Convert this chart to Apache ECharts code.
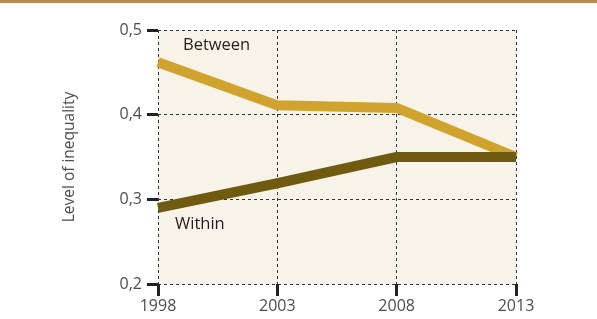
<!DOCTYPE html>
<html>

<head>
    <meta charset=utf-8>
    <title>Level of inequality</title>
    <script src="https://cdn.jsdelivr.net/npm/echarts@6/dist/echarts.min.js"></script>
    <style>
        html, body { margin: 0; padding: 0; background: #fff; }
    </style>
</head>

<body>
<div id="main" style="width: 597px;height:319px;"></div>
</body>
<script type="text/javascript">

    var years = ['1998', '2003', '2008', '2013'];
    var between = [0.462, 0.411, 0.408, 0.35];
    var within = [0.29, 0.319, 0.35, 0.35];

    var myChart = echarts.init(document.getElementById('main'));

    var dashed = { color: '#333', type: [3, 3], width: 1 };
    var labelFont = { color: '#4d4d4d', fontSize: 16, fontFamily: 'Open Sans' };

    var option = {
        animation: false,
        grid: { left: 158, right: 81, top: 30, bottom: 35, backgroundColor: '#f8f3e8', show: true, borderWidth: 0 },
        xAxis: {
            type: 'category',
            data: years,
            boundaryGap: false,
            axisLine: { show: false },
            axisTick: { show: true, alignWithLabel: true, length: 12, lineStyle: { color: '#222', width: 3 } },
            axisLabel: Object.assign({ margin: 14 }, labelFont),
            splitLine: { show: true, lineStyle: dashed }
        },
        yAxis: {
            type: 'value',
            min: 0.2,
            max: 0.5,
            interval: 0.1,
            name: 'Level of inequality',
            nameLocation: 'middle',
            nameGap: 80,
            nameTextStyle: { color: '#4d4d4d', fontSize: 15.5, fontFamily: 'Open Sans' },
            axisLine: { show: false },
            axisTick: { show: true, length: 11, lineStyle: { color: '#222', width: 3 } },
            axisLabel: Object.assign({ margin: 16, formatter: function (v) { return v.toFixed(1).replace('.', ','); } }, labelFont),
            splitLine: { show: true, lineStyle: dashed }
        },
        graphic: [
            { type: 'rect', left: 0, top: 0, shape: { width: 597, height: 3 }, style: { fill: '#b98c55' } },
            { type: 'text', left: 183, top: 37, style: { text: 'Between', fill: '#231f20', font: '16.5px "Open Sans"' } },
            { type: 'text', left: 175, top: 216, style: { text: 'Within', fill: '#231f20', font: '16.5px "Open Sans"' } }
        ],
        series: [
            {
                name: 'Between',
                type: 'line',
                data: between,
                symbol: 'none',
                lineStyle: { color: '#d0a22e', width: 10, cap: 'butt', join: 'round' }
            },
            {
                name: 'Within',
                type: 'line',
                data: within,
                symbol: 'none',
                lineStyle: { color: '#705a10', width: 10, cap: 'butt', join: 'round' }
            }
        ]
    };

    myChart.setOption(option);

</script>
</html>
